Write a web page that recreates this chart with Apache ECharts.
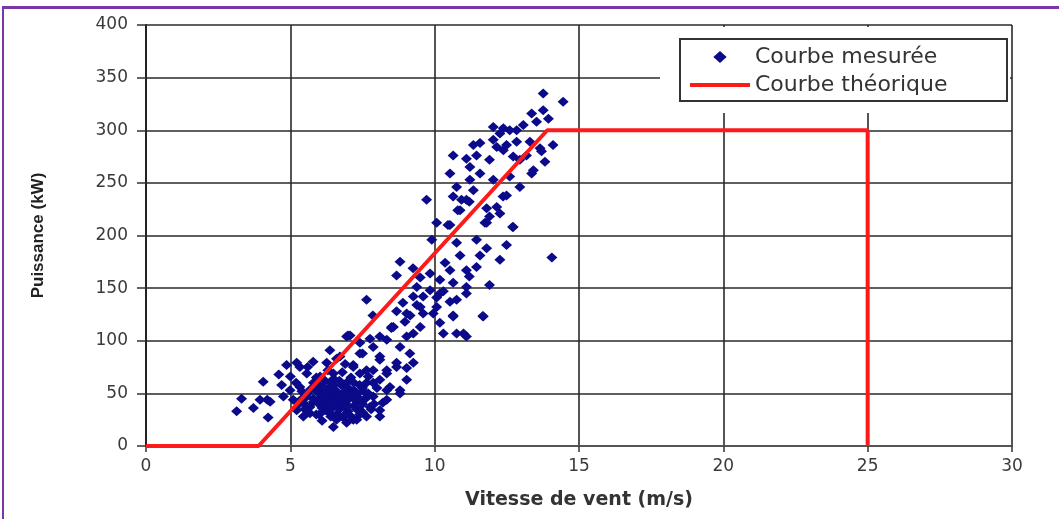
<!DOCTYPE html>
<html>
<head>
<meta charset="utf-8">
<script src="https://cdn.jsdelivr.net/npm/echarts@6/dist/echarts.min.js"></script>
<style>
  html, body { margin: 0; padding: 0; background: #fff; }
  #chart { position: absolute; left: 0; top: 0; width: 1059px; height: 519px; }
  #frame { position: absolute; left: 2px; top: 6px; width: 1080px; height: 540px;
           border-top: 3px solid #7a35a8; border-left: 2px solid #7a35a8; pointer-events: none; }
</style>
</head>
<body>
<div id="chart"></div>
<div id="frame"></div>
<script>
// ---- Data ----
const xTicks = [0, 5, 10, 15, 20, 25, 30];
const yTicks = [0, 50, 100, 150, 200, 250, 300, 350, 400];

const seriesNames = ['Courbe mesurée', 'Courbe théorique'];

// Theoretical power curve (wind speed m/s, power kW)
const theoryWind  = [0, 3.9, 13.9, 25, 25];
const theoryPower = [0, 0, 300, 300, 0];

// Measured points (wind speed m/s)
const measuredWind = [
  3.31,3.14,4.06,4.23,4.2,3.95,3.72,4.3,
  4.87,5.22,5.33,5.79,6.26,6.6,5.57,6.03,6.49,7.18,7.41,7.87,8.34,8.68,9.26,
  7.64,8.1,8.45,6.95,6.37,5.91,5.33,4.99,4.76,5.1,5.57,6.03,6.49,6.83,7.18,7.53,7.87,8.34,
  7.76,8.1,7.41,6.95,6.49,6.03,5.68,5.22,5.45,6.37,6.72,7.18,7.64,6.49,6.95,5.68,6.83,7.3,8.1,8.2,8.8,9.03,
  5.8,6.1,6.2,6.4,6.6,6.7,6.9,7.0,7.1,7.3,7.4,7.6,5.9,6.3,6.8,7.0,6.2,5.5,5.2,5.0,4.7,4.6,5.4,5.7,6.0,6.5,6.6,7.2,7.5,7.9,8.0,7.7,6.1,5.9,6.4,6.8,7.2,5.6,6.9,6.3,
  5.6,5.8,6.0,6.1,6.3,6.4,6.5,6.6,6.7,6.8,6.9,7.0,7.1,7.2,7.3,7.4,7.5,6.2,6.5,6.7,6.9,7.1,7.3,7.5,7.7,6.0,6.3,6.6,5.8,5.4,5.5,5.3,5.9,6.2,6.8,7.0,7.4,7.8,6.4,6.1,
  7.0,7.5,8.5,8.97,7.76,8.1,7.64,8.57,9.26,9.03,9.5,9.95,10.64,11.68,11.0,11.1,10.18,8.34,8.8,9.26,7.87,7.41,8.1,8.68,9.14,7.64,8.34,7.18,6.72,6.37,6.95,7.41,9.03,8.8,7.87,8.34,
  7.07,8.1,9.03,8.51,9.5,10.18,10.3,10.76,11.1,
  7.86,8.68,9.15,9.6,10.64,11.67,
  8.9,9.38,10.07,10.53,9.6,10.07,10.76,
  9.38,9.84,10.3,10.64,11.9,11.1,
  8.68,9.5,10.18,11.2,8.8,9.25,9.84,10.53,11.1,11.45,
  9.9,10.76,11.45,11.8,12.49,11.57,12.26,10.88,10.36,
  10.07,10.46,9.72,10.64,10.93,11.2,10.8,11.8,12.15,12.37,11.9,11.74,12.7,
  13.76,14.45,13.36,13.76,13.94,13.53,13.07,12.84,12.03,12.38,12.6,12.26,14.1,13.65,13.3,12.84,12.49,12.15,12.03,11.57,11.34,
  10.64,11.1,11.45,11.9,12.38,12.72,12.95,13.18,13.82,13.42,13.36,10.53,11.22,11.57,12.03,12.6,12.95,11.22,10.76,11.34,
  11.1,12.49,10.88,12.26,10.53,11.8,12.72,14.06,13.7
];

// Measured points (power kW)
const measuredPower = [
  45,33,61,27,44,44,36,42,
  77,79,75,80,79,83,69,66,69,77,69,72,72,75,79,
  60,63,56,60,56,58,56,53,47,44,47,50,47,50,47,52,47,44,
  37,34,34,37,37,39,37,34,28,31,28,25,28,18,22,31,27,25,28,41,53,74,
  45,55,42,60,52,40,45,55,65,42,58,45,65,72,70,33,34,40,60,66,58,68,52,54,45,64,30,38,32,40,55,66,24,30,43,57,53,75,78,50,
  50,60,58,48,45,53,58,45,62,48,52,44,48,60,50,45,55,62,40,35,30,28,35,40,50,30,38,25,42,45,35,40,52,55,42,38,30,35,28,36,
  105,88,112,118,102,85,139,113,142,126,132,126,123,123,107,145,145,101,94,107,94,88,82,79,88,72,69,75,85,91,104,98,63,50,60,53,
  105,104,104,113,113,117,107,107,104,
  124,128,124,126,124,123.5,
  136,134,132,137,142,141,139,
  151,148,147,155,153,151,
  162,160,158,161,175,169,164,167,167,170,
  196,193,196,188,191,181,177,181,174,
  212,210,234,237,234,232,224,226,227,237,218,212,208,
  335,327,316,319,311,308,305,300,303,302,300,297,286,283,289,289,286,284,291,288,286,
  276,273,276,272,281,275,272,276,270,262,259,259,265,259,253,256,246,253,246,243,
  234,238,224,221,210,212,208,179,280
];

const scatterData = measuredWind.map((w, i) => [w, measuredPower[i]]);
const theoryData = theoryWind.map((w, i) => [w, theoryPower[i]]);

const chart = echarts.init(document.getElementById('chart'), null, { renderer: 'canvas' });

const labelFont = 'DejaVu Sans, Liberation Sans, sans-serif';

chart.setOption({
  animation: false,
  backgroundColor: '#ffffff',
  grid: { left: 146, right: 47, top: 25, bottom: 73, containLabel: false },
  xAxis: {
    type: 'value',
    min: xTicks[0], max: xTicks[xTicks.length - 1], interval: 5,
    name: 'Vitesse de vent (m/s)',
    nameLocation: 'middle',
    nameGap: 45,
    nameTextStyle: { fontFamily: labelFont, fontSize: 19, fontWeight: 'bold', color: '#333' },
    axisLine: { show: true, onZero: false, lineStyle: { color: '#555', width: 2 } },
    axisTick: { show: true, length: 6, lineStyle: { color: '#333', width: 1.5 } },
    axisLabel: { margin: 12, fontFamily: labelFont, fontSize: 17, color: '#3a3a3a' },
    splitLine: { show: true, lineStyle: { color: '#2a2a2a', width: 1.6 } }
  },
  yAxis: {
    type: 'value',
    min: yTicks[0], max: yTicks[yTicks.length - 1], interval: 50,
    name: 'Puissance (kW)',
    nameLocation: 'middle',
    nameRotate: 90,
    nameGap: 99,
    nameTextStyle: { fontFamily: 'Liberation Sans, Arial, sans-serif', fontSize: 17, fontWeight: 'bold', color: '#222' },
    axisLine: { show: true, onZero: false, lineStyle: { color: '#222', width: 2 } },
    axisTick: { show: true, length: 9, lineStyle: { color: '#333', width: 1.5 } },
    axisLabel: { margin: 18, fontFamily: labelFont, fontSize: 17, color: '#3a3a3a' },
    splitLine: { show: true, lineStyle: { color: '#2a2a2a', width: 1.6 } }
  },
  legend: {
    orient: 'vertical',
    left: 690, top: 45,
    padding: 0,
    itemWidth: 60, itemHeight: 12, itemGap: 4,
    symbolKeepAspect: true,
    textStyle: { fontFamily: labelFont, fontSize: 22, color: '#333', lineHeight: 24 },
    data: [
      { name: seriesNames[0], icon: 'path://M5,0L10,4.5L5,9L0,4.5Z', itemStyle: { color: '#0a0a8a' } },
      { name: seriesNames[1], icon: 'path://M0,0H60V4H0Z', itemStyle: { color: '#ff1a1a' } }
    ],
    z: 6
  },
  graphic: [
    { type: 'rect', z: 3, silent: true,
      shape: { x: 660, y: 27, width: 350, height: 86 },
      style: { fill: '#ffffff', stroke: null } },
    { type: 'rect', z: 5, silent: true,
      shape: { x: 680, y: 39, width: 327, height: 62 },
      style: { fill: 'transparent', stroke: '#333', lineWidth: 2 } }
  ],
  series: [
    {
      name: seriesNames[0],
      type: 'scatter',
      data: scatterData,
      symbol: 'diamond',
      symbolSize: [11, 10],
      itemStyle: { color: '#0a0a8a', opacity: 1 },
      z: 2
    },
    {
      name: seriesNames[1],
      type: 'line',
      data: theoryData,
      showSymbol: false,
      symbol: 'none',
      lineStyle: { color: '#ff1a1a', width: 4 },
      z: 4
    }
  ]
});
</script>
</body>
</html>
